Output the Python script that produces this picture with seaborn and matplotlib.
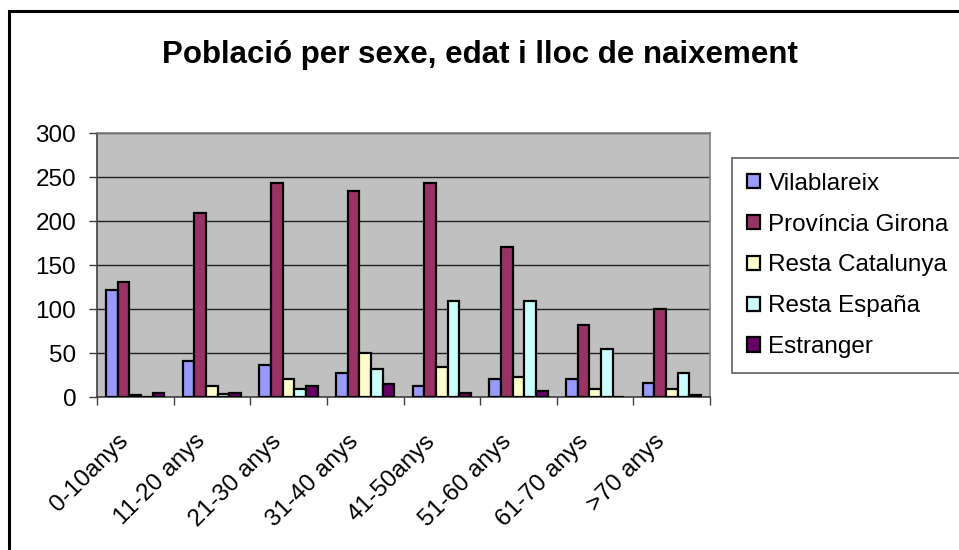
import matplotlib
matplotlib.use('Agg')
import matplotlib.pyplot as plt
import matplotlib.transforms as mtransforms
from matplotlib.patches import Rectangle
import seaborn as sns
import pandas as pd

# Data
edats = ['0-10anys', '11-20 anys', '21-30 anys', '31-40 anys',
         '41-50anys', '51-60 anys', '61-70 anys', '>70 anys']
vilablareix = [122, 41, 36, 27, 13, 20, 20, 16]
provincia_girona = [131, 209, 243, 234, 243, 170, 82, 100]
resta_catalunya = [2, 13, 21, 50, 34, 23, 9, 9]
resta_espanya = [0, 3, 9, 32, 109, 109, 55, 27]
estranger = [4, 4, 13, 15, 4, 7, 0, 2]

series = ['Vilablareix', 'Província Girona', 'Resta Catalunya', 'Resta España', 'Estranger']
colors = ['#9999FF', '#993366', '#FFFFCC', '#CCFFFF', '#660066']

rows = []
for name, vals in zip(series, [vilablareix, provincia_girona, resta_catalunya, resta_espanya, estranger]):
    for edat, v in zip(edats, vals):
        rows.append({'edat': edat, 'lloc': name, 'poblacio': v})
df = pd.DataFrame(rows)

sns.set_style('white')
plt.rcParams['font.family'] = ['Liberation Sans', 'DejaVu Sans']
plt.rcParams['text.color'] = 'black'
plt.rcParams['xtick.color'] = 'black'
plt.rcParams['ytick.color'] = 'black'
plt.rcParams['xtick.labelcolor'] = 'black'
plt.rcParams['ytick.labelcolor'] = 'black'

fig = plt.figure(figsize=(9.59, 5.5), dpi=100)
ax = fig.add_axes([97/959, 1 - 397/550, (710 - 97)/959, (397 - 133)/550])
ax.set_facecolor('#C0C0C0')

sns.barplot(data=df, x='edat', y='poblacio', hue='lloc', hue_order=series,
            palette=colors, width=0.76, edgecolor='black', linewidth=1.6,
            saturation=1, ax=ax, zorder=3)

ax.set_ylim(0, 300)
ax.set_xlim(-0.5, len(edats) - 0.5)
ax.set_yticks(range(0, 301, 50))
ax.yaxis.grid(True, color='#202020', linewidth=1, zorder=0)
ax.set_axisbelow(True)
ax.set_xlabel('')
ax.set_ylabel('')

for side in ['top', 'right']:
    ax.spines[side].set_color('#808080')
    ax.spines[side].set_linewidth(1.2)
for side in ['left', 'bottom']:
    ax.spines[side].set_color('#404040')
    ax.spines[side].set_linewidth(1.2)

ax.tick_params(axis='y', direction='out', length=6, width=1, color='#404040',
               labelsize=17.5, pad=9, left=True)
ax.set_xticks(range(len(edats)))
ax.set_xticks([i - 0.5 for i in range(len(edats) + 1)], minor=True)
ax.tick_params(axis='x', which='major', length=0, pad=0)
ax.tick_params(axis='x', which='minor', direction='out', length=6, width=1,
               color='#404040', bottom=True)
ax.set_xticklabels(edats, rotation=45, ha='right', va='center',
                   rotation_mode='anchor', fontsize=17.5)
offset = mtransforms.ScaledTranslation(-0.10, -0.41, fig.dpi_scale_trans)
for lbl in ax.get_xticklabels():
    lbl.set_transform(lbl.get_transform() + offset)

handles, labels = ax.get_legend_handles_labels()
ax.legend(handles, labels, loc='upper left', bbox_to_anchor=(732/959, 1 - 158/550),
          bbox_transform=fig.transFigure, fontsize=17.5, frameon=True, fancybox=False,
          edgecolor='#606060', framealpha=1, borderpad=0.6, labelspacing=0.78,
          handlelength=0.55, handleheight=0.55, handletextpad=0.35, borderaxespad=0)
ax.get_legend().get_frame().set_linewidth(1.2)

fig.suptitle('Població per sexe, edat i lloc de naixement', x=0.5, y=1 - 55/550,
             va='center', fontsize=22.5, fontweight='bold', color='black')

# outer chart frame
fig.patches.append(Rectangle((9/959, -0.1), 1.1, 1 - 11/550 + 0.1, transform=fig.transFigure,
                             fill=False, edgecolor='black', linewidth=2.2))

fig.savefig('out.png', dpi=100)
